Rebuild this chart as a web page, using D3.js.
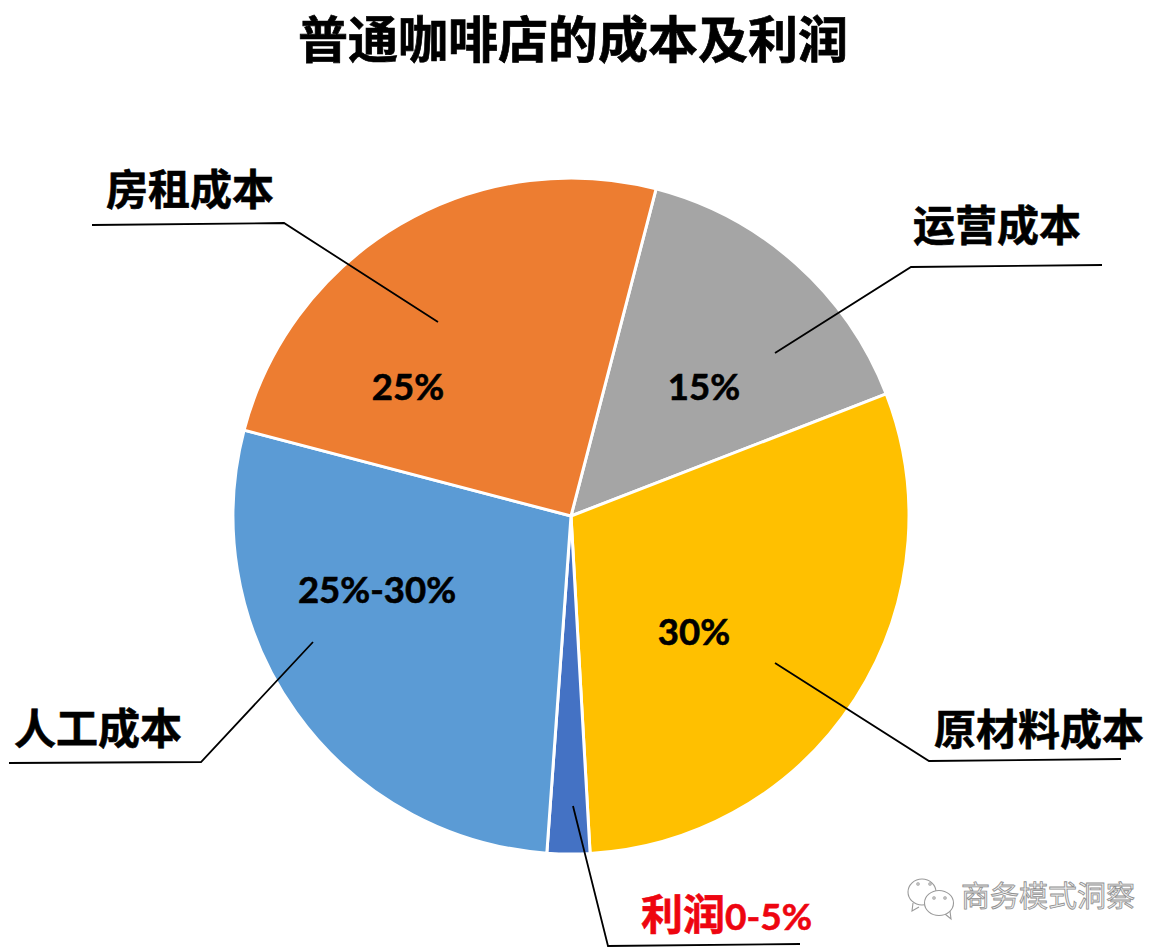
<!DOCTYPE html>
<html>
<head>
<meta charset="utf-8">
<script src="https://cdn.jsdelivr.net/npm/d3@7"></script>
<style>
  html, body { margin: 0; padding: 0; background: #fff; }
  svg { display: block; }
  text { font-family: "Noto Sans CJK SC", sans-serif; font-weight: 700; }
  text.num, tspan.num { font-family: Lato, "Open Sans", sans-serif; font-weight: 700; }
  text.mark { font-weight: 400; }
</style>
</head>
<body>
<svg id="chart" width="1173" height="948"></svg>
<script>
// clockwise from the orange/grey edge, shares
var categories = ['运营成本', '原材料成本', '利润', '人工成本', '房租成本']
var shares = [15.07, 29.98, 2.04, 27.95, 24.96]
var valueLabels = ['15%', '30%', '', '25%-30%', '25%']
var colors = ['#a5a5a5', '#ffc000', '#4472c4', '#5b9bd5', '#ed7d31']
var startShare = 4.05 // the first slice starts a little right of 12 o'clock

var svg = d3.select('#chart')
var cx = 571, cy = 516, radius = 338

var pie = d3.pie().sort(null).value(function (d) { return d })
  .startAngle(startShare / 100 * 2 * Math.PI)
  .endAngle((startShare / 100 + 1) * 2 * Math.PI)
var arc = d3.arc().innerRadius(0).outerRadius(radius)

var g = svg.append('g').attr('transform', 'translate(' + cx + ',' + cy + ')')

g.selectAll('path').data(pie(shares)).enter().append('path')
  .attr('d', arc)
  .attr('fill', function (d, i) { return colors[i] })
  .attr('stroke', '#fff')
  .attr('stroke-width', 3)

// title
svg.append('text').attr('x', 573).attr('y', 58)
  .attr('text-anchor', 'middle').attr('font-size', 50)
  .attr('stroke', '#000').attr('stroke-width', 0.7)
  .text('普通咖啡店的成本及利润')

// value labels inside the slices
var valuePos = [[704, 387], [694, 632], null, [377, 590], [408, 387]]
valueLabels.forEach(function (t, i) {
  if (!t) return
  svg.append('text').attr('class', 'num')
    .attr('x', valuePos[i][0]).attr('y', valuePos[i][1] + 13)
    .attr('text-anchor', 'middle').attr('font-size', 36.5)
    .attr('stroke', '#000').attr('stroke-width', 0.6)
    .text(t)
})

// category labels with their leader lines
var leaders = [
  [[775, 353], [911, 267], [1102, 265]],
  [[775, 663], [929, 761], [1121, 759]],
  [[573, 806], [608, 946], [800, 944]],
  [[313, 642], [201, 762], [9, 763]],
  [[438, 322], [284, 223], [92, 225]]
]
var line = d3.line()
svg.selectAll('path.leader').data(leaders).enter().append('path')
  .attr('class', 'leader')
  .attr('d', line)
  .attr('fill', 'none')
  .attr('stroke', '#000')
  .attr('stroke-width', 1.8)

var labelPos = [[997, 226], [1039, 730], null, [98, 729], [190, 190]]
categories.forEach(function (t, i) {
  if (!labelPos[i]) return
  svg.append('text').attr('x', labelPos[i][0]).attr('y', labelPos[i][1] + 15)
    .attr('text-anchor', 'middle').attr('font-size', 42)
    .attr('stroke', '#000').attr('stroke-width', 0.6)
    .text(t)
})

// profit label is red and mixes two sizes
var profit = svg.append('text').attr('x', 641).attr('y', 930)
  .attr('fill', '#ee0510').attr('stroke', '#ee0510').attr('stroke-width', 0.6)
profit.append('tspan').attr('font-size', 42).text(categories[2])
profit.append('tspan').attr('class', 'num').attr('font-size', 37).text('0-5%')

// watermark, embossed grey outline on white
var wm = svg.append('g').attr('fill', '#fff').attr('stroke', '#9a9a9a').attr('stroke-width', 1.1)
wm.append('path').attr('d', 'M913 903l-1 8 7-4')
wm.append('ellipse').attr('cx', 922).attr('cy', 892).attr('rx', 14).attr('ry', 13)
wm.append('path').attr('d', 'M945 914l6 5-1-8')
wm.append('ellipse').attr('cx', 939).attr('cy', 903).attr('rx', 14.5).attr('ry', 12.5)
wm.append('circle').attr('cx', 918).attr('cy', 884).attr('r', 1.2)
wm.append('circle').attr('cx', 930).attr('cy', 884).attr('r', 1.2)
wm.append('circle').attr('cx', 934).attr('cy', 898).attr('r', 1.2)
wm.append('circle').attr('cx', 945).attr('cy', 898).attr('r', 1.2)

svg.append('text').attr('class', 'mark').attr('x', 961).attr('y', 907)
  .attr('font-size', 29)
  .attr('fill', '#ededed').attr('stroke', '#8f8f8f').attr('stroke-width', 0.8)
  .text('商务模式洞察')
</script>
</body>
</html>
